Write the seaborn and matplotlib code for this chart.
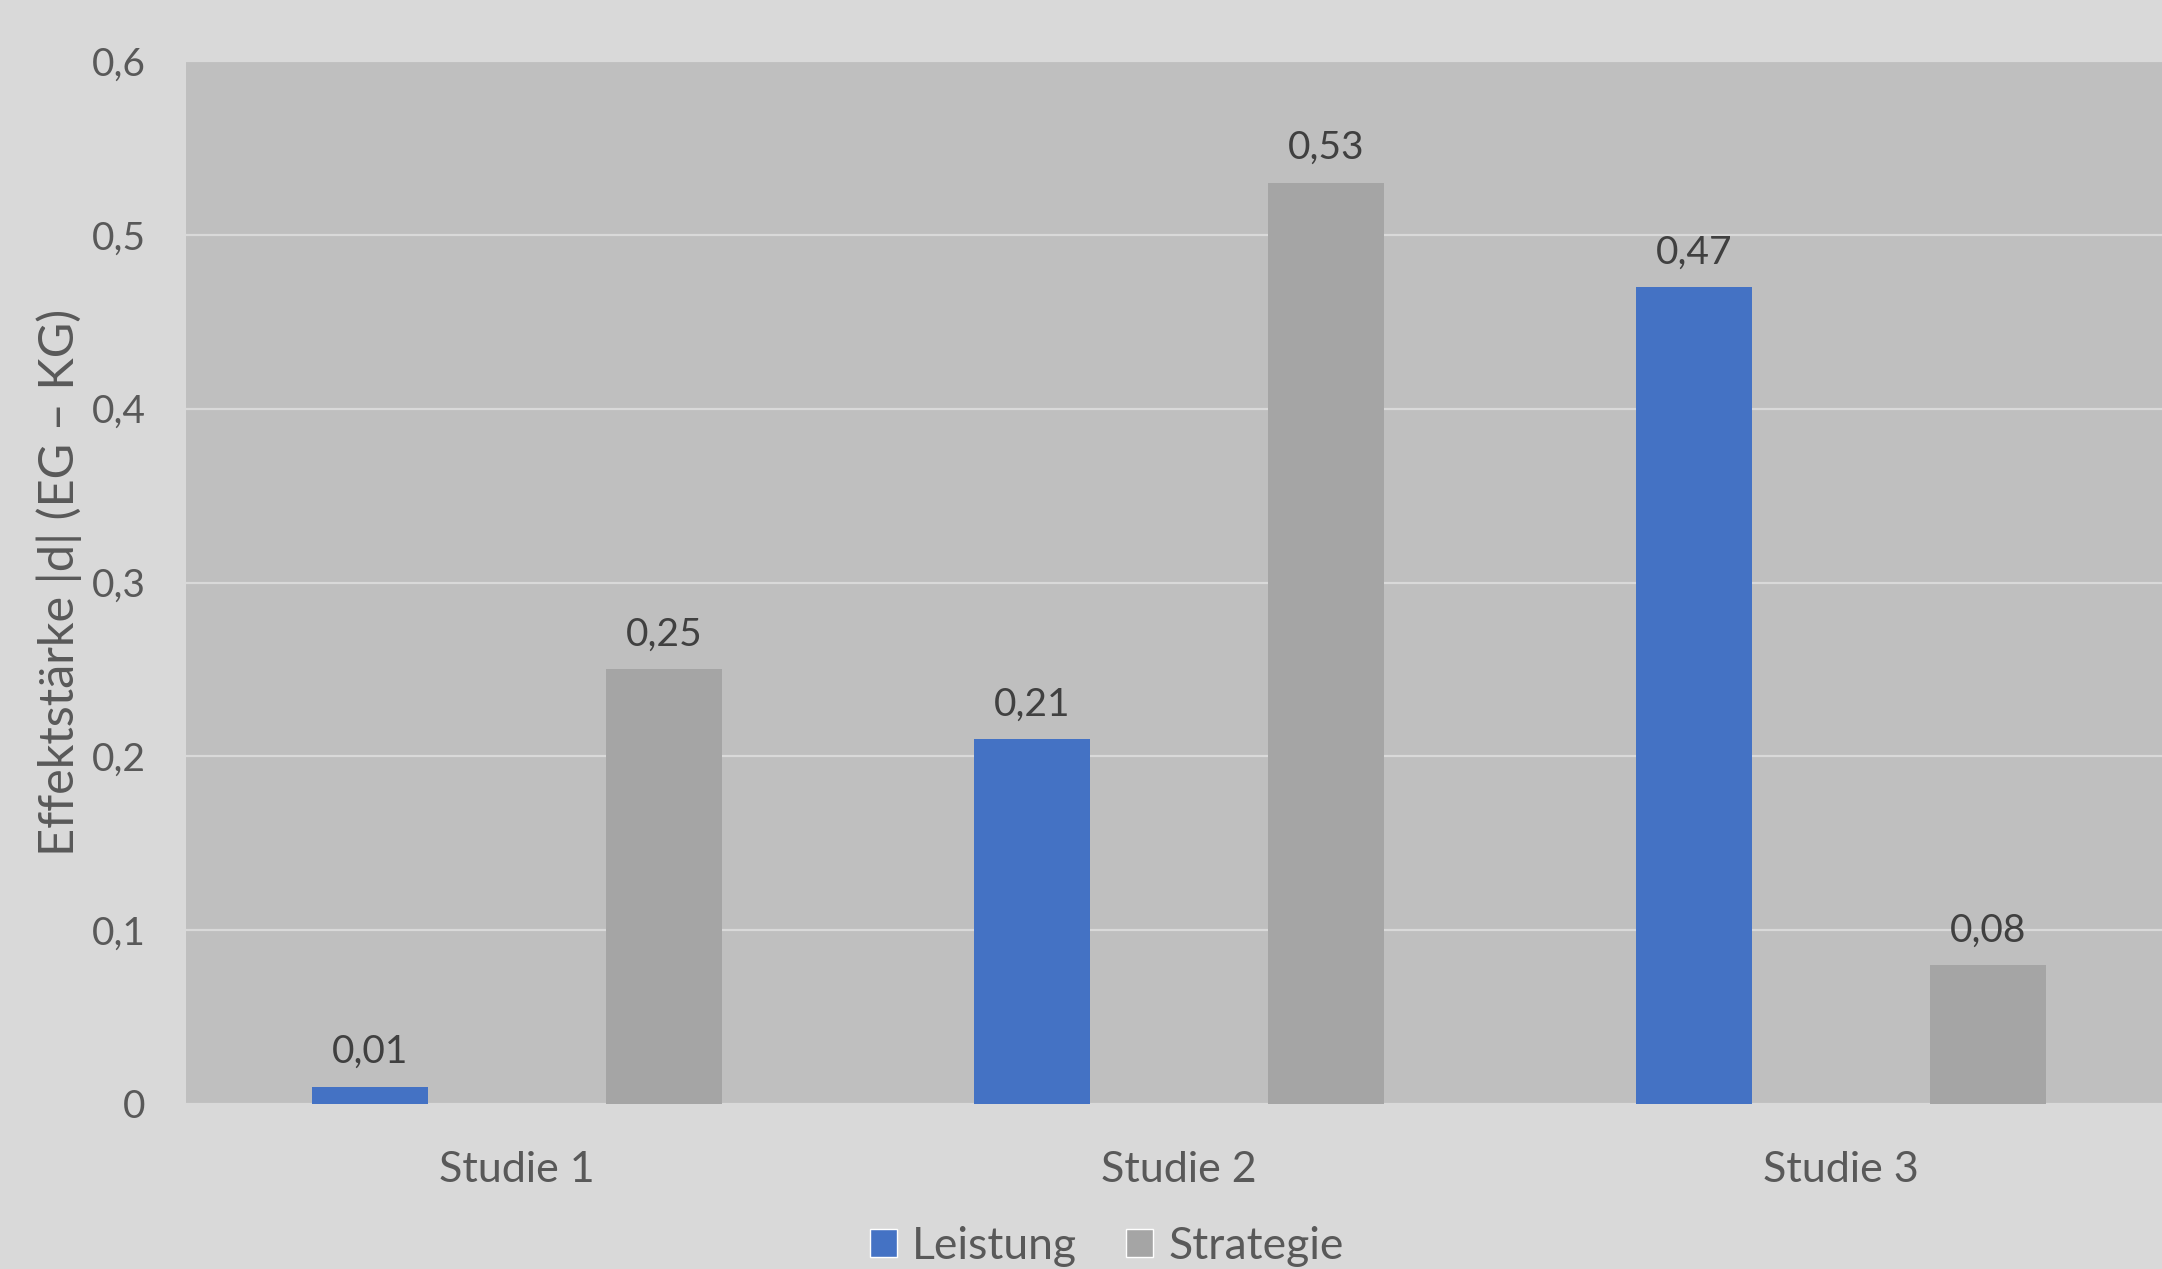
import matplotlib
matplotlib.use("Agg")
import matplotlib.pyplot as plt
import seaborn as sns
import pandas as pd
from matplotlib.patches import Patch

studies = ["Studie 1", "Studie 2", "Studie 3"]
leistung = [0.01, 0.21, 0.47]
strategie = [0.25, 0.53, 0.08]
series_names = ["Leistung", "Strategie"]
y_ticks = [0, 0.1, 0.2, 0.3, 0.4, 0.5, 0.6]
y_label = "Effektstärke |d| (EG – KG)"

df = pd.DataFrame({
    "Studie": studies * 2,
    "Wert": leistung + strategie,
    "Serie": [series_names[0]] * 3 + [series_names[1]] * 3,
})

BG = "#D9D9D9"
AX = "#BFBFBF"
colors = {"Leistung": "#4472C4", "Strategie": "#A5A5A5"}
FONT = ["Lato", "DejaVu Sans"]

sns.set_theme(style="white")
plt.rcParams["font.family"] = FONT

fig = plt.figure(figsize=(21.62, 12.69), dpi=100, facecolor=BG)
ax = fig.add_axes([186 / 2162, 1 - 1104 / 1269, (2172 - 186) / 2162, (1104 - 61) / 1269])
ax.set_facecolor(AX)

sns.barplot(data=df, x="Studie", y="Wert", hue="Serie", palette=colors,
            width=0.888, gap=0.604, ax=ax, legend=False, saturation=1,
            errorbar=None, zorder=3, linewidth=0)

ax.set_xlim(-0.5, 2.5)
ax.set_ylim(0, 0.6)
ax.set_yticks(y_ticks)
ax.set_yticklabels([("%g" % t).replace(".", ",") for t in y_ticks])
ax.yaxis.grid(True, color=BG, linewidth=1.6, zorder=0)
ax.set_axisbelow(True)
for s in ax.spines.values():
    s.set_visible(False)
ax.tick_params(axis="both", length=0, labelcolor="#595959")
ax.tick_params(axis="y", pad=29, labelsize=28)
ax.tick_params(axis="x", pad=34, labelsize=31)
ax.set_xlabel("")
ax.set_ylabel(y_label, fontsize=35, color="#595959", labelpad=7)

for cont in ax.containers:
    ax.bar_label(cont, labels=[("%.2f" % v).replace(".", ",") for v in cont.datavalues],
                 padding=12, fontsize=28, color="#404040")

handles = [Patch(facecolor=colors[n], label=n) for n in series_names]
fig.legend(handles=handles, loc="lower center", bbox_to_anchor=(0.512, 0.0), ncol=2,
           frameon=False, fontsize=32, labelcolor="#595959", handlelength=0.6,
           handleheight=0.6, handletextpad=0.35, columnspacing=1.1,
           borderpad=0.05, borderaxespad=0)

fig.savefig("out.png", dpi=100, facecolor=BG)
